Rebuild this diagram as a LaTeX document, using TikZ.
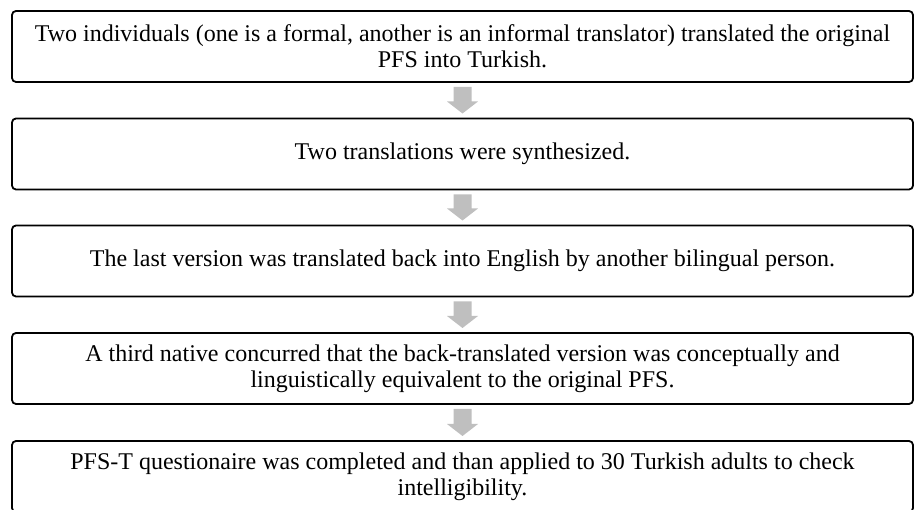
\documentclass[tikz,border=0pt]{standalone}
\usepackage{fontspec}
\setmainfont{Liberation Serif}
\usetikzlibrary{calc}
\definecolor{arrowgray}{HTML}{BFBFBF}
\tikzset{
  stepbox/.style={draw=black, line width=1.8pt, rounded corners=4pt, minimum width=901pt,
    minimum height=71pt, align=center, inner sep=0pt, outer sep=0pt,
    font=\fontsize{24}{26}\selectfont},
  arrowshape/.style={fill=arrowgray, draw=none}
}
\newcommand{\flowarrow}[2]{%
  \fill[arrowshape] ($(#1.south)+(-9,5)$) -- ($(#2.north)+(-9,-17)$) -- ($(#2.north)+(-15.5,-17)$)
    -- ($(#2.north)+(0,-5)$) -- ($(#2.north)+(15.5,-17)$) -- ($(#2.north)+(9,-17)$)
    -- ($(#1.south)+(9,5)$) -- cycle;}
\begin{document}
\begin{tikzpicture}[x=1pt,y=-1pt]
\useasboundingbox (0,0) rectangle (914,510);
\node[stepbox] (a) at (462.5,46.5) {Two individuals (one is a formal, another is an informal translator) translated the original\\PFS into Turkish.};
\node[stepbox] (b) at (462.5,154) {Two translations were synthesized.};
\node[stepbox] (c) at (462.5,261) {The last version was translated back into English by another bilingual person.};
\node[stepbox] (d) at (462.5,368.5) {A third native concurred that the back-translated version was conceptually and\\linguistically equivalent to the original PFS.};
\node[stepbox] (e) at (462.5,476.5) {PFS-T questionaire was completed and than applied to 30 Turkish adults to check\\intelligibility.};
\flowarrow{a}{b}
\flowarrow{b}{c}
\flowarrow{c}{d}
\flowarrow{d}{e}
\end{tikzpicture}
\end{document}
